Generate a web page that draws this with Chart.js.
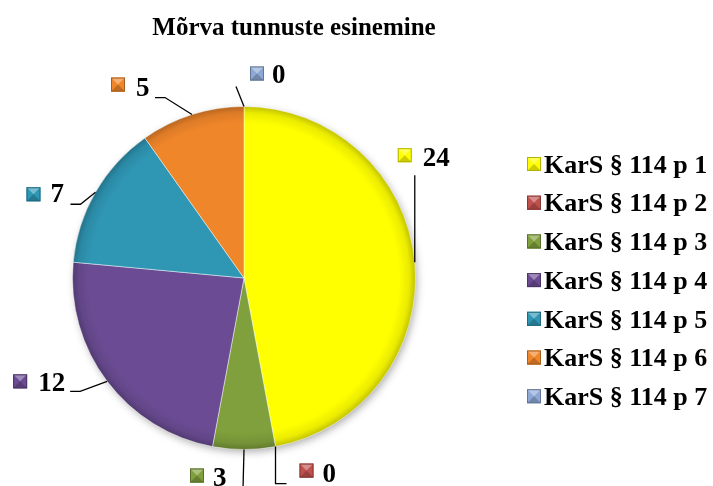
<!DOCTYPE html>
<html>
<head>
<meta charset="utf-8">
<script src="https://cdn.jsdelivr.net/npm/chart.js@4"></script>
<style>
  body { margin: 0; background: #fff; }
  canvas { display: block; }
</style>
</head>
<body>
<canvas id="myChart" width="713" height="486"></canvas>
<script>
const chartTitle = 'Mõrva tunnuste esinemine';
const categories = ['KarS § 114 p 1', 'KarS § 114 p 2', 'KarS § 114 p 3', 'KarS § 114 p 4',
                    'KarS § 114 p 5', 'KarS § 114 p 6', 'KarS § 114 p 7'];
const counts = [24, 0, 3, 12, 7, 5, 0];
const sliceColors = ['#FFFF00', '#C0504D', '#7FA03C', '#6B4C94', '#2F96B4', '#F0862A', '#8DA8D5'];

const SERIF = '"Liberation Serif", "Times New Roman", serif';

// callout positions, relative to the point on the rim at the middle of each slice
const callouts = [
  { bend: [0, -87],   end: [0, -87],   box: [-10, -107], text: [8, -103] },
  { bend: [0, 37],    end: [11, 37],   box: [31, 24],    text: [47, 28] },
  { bend: [-1, 40],   end: [-1, 40],   box: [-47, 26],   text: [-31, 30] },
  { bend: [-27, 10],  end: [-37, 10],  box: [-87, 0],    text: [-69, 3] },
  { bend: [-15, 12],  end: [-25, 12],  box: [-62, 2],    text: [-45, 3] },
  { bend: [-27, -17], end: [-37, -17], box: [-74, -30],  text: [-56, -26] },
  { bend: [-8, -20],  end: [-8, -20],  box: [13, -33],   text: [28, -30] }
];

function shade(hex, pct) {
  var n = parseInt(hex.slice(1), 16);
  var r = n >> 16, g = (n >> 8) & 255, b = n & 255;
  var f = function (c) {
    c = pct < 0 ? c * (1 + pct) : c + (255 - c) * pct;
    return Math.round(Math.max(0, Math.min(255, c)));
  };
  return 'rgb(' + f(r) + ',' + f(g) + ',' + f(b) + ')';
}

function bevelBox(ctx, cx, cy, s, color) {
  var x = cx - s / 2, y = cy - s / 2;
  ctx.fillStyle = color;
  ctx.fillRect(x, y, s, s);
  ctx.fillStyle = shade(color, 0.35);
  ctx.beginPath();
  ctx.moveTo(x, y); ctx.lineTo(x + s, y); ctx.lineTo(cx, cy); ctx.closePath();
  ctx.fill();
  ctx.fillStyle = shade(color, -0.2);
  ctx.beginPath();
  ctx.moveTo(x, y + s); ctx.lineTo(x + s, y + s); ctx.lineTo(cx, cy); ctx.closePath();
  ctx.fill();
  ctx.strokeStyle = shade(color, -0.3);
  ctx.lineWidth = 1;
  ctx.strokeRect(x + 0.5, y + 0.5, s - 1, s - 1);
}

const decorPlugin = {
  id: 'decor',
  beforeDatasetsDraw(chart) {
    var ctx = chart.ctx;
    var arc = chart.getDatasetMeta(0).data[0];
    if (!arc) return;
    ctx.save();
    ctx.shadowColor = 'rgba(0,0,0,0.35)';
    ctx.shadowBlur = 8;
    ctx.shadowOffsetX = 2;
    ctx.shadowOffsetY = 3;
    ctx.fillStyle = '#fff';
    ctx.beginPath();
    ctx.arc(arc.x, arc.y, arc.outerRadius - 1, 0, Math.PI * 2);
    ctx.fill();
    ctx.restore();
  },
  afterDraw(chart) {
    var ctx = chart.ctx;
    ctx.save();
    // title
    ctx.fillStyle = '#000';
    ctx.font = 'bold 25px ' + SERIF;
    ctx.textAlign = 'center';
    ctx.textBaseline = 'middle';
    ctx.fillText(chartTitle, 294, 29);

    // callouts
    var meta = chart.getDatasetMeta(0);
    ctx.font = 'bold 27px ' + SERIF;
    ctx.textAlign = 'left';
    meta.data.forEach(function (el, i) {
      var p = el.getProps(['x', 'y', 'startAngle', 'endAngle', 'outerRadius'], true);
      var mid = (p.startAngle + p.endAngle) / 2;
      var ex = p.x + Math.cos(mid) * p.outerRadius;
      var ey = p.y + Math.sin(mid) * p.outerRadius;
      var c = callouts[i];
      ctx.strokeStyle = '#000';
      ctx.lineWidth = 1.3;
      ctx.beginPath();
      ctx.moveTo(ex, ey);
      ctx.lineTo(ex + c.bend[0], ey + c.bend[1]);
      ctx.lineTo(ex + c.end[0], ey + c.end[1]);
      ctx.stroke();
      bevelBox(ctx, ex + c.box[0], ey + c.box[1], 14, sliceColors[i]);
      ctx.fillStyle = '#000';
      ctx.fillText(String(chart.data.datasets[0].data[i]), ex + c.text[0], ey + c.text[1]);
    });

    // legend
    ctx.font = 'bold 26px ' + SERIF;
    chart.data.labels.forEach(function (lab, i) {
      var y = 166 + i * 38.7;
      bevelBox(ctx, 534, y - 2, 14, sliceColors[i]);
      ctx.fillStyle = '#000';
      ctx.fillText(lab, 544, y);
    });
    ctx.restore();
  }
};

new Chart(document.getElementById('myChart'), {
  type: 'pie',
  data: {
    labels: categories,
    datasets: [{
      data: counts,
      backgroundColor: function (context) {
        var base = sliceColors[context.dataIndex];
        var area = context.chart.chartArea;
        if (!area) return base;
        var cx = (area.left + area.right) / 2, cy = (area.top + area.bottom) / 2;
        var r = Math.min(area.right - area.left, area.bottom - area.top) / 2;
        var g = context.chart.ctx.createRadialGradient(cx, cy, 0, cx, cy, r);
        g.addColorStop(0, base);
        g.addColorStop(0.9, base);
        g.addColorStop(0.96, shade(base, -0.08));
        g.addColorStop(1, shade(base, -0.25));
        return g;
      },
      borderColor: 'rgba(255,255,255,0.45)',
      borderWidth: 1
    }]
  },
  options: {
    responsive: false,
    animation: false,
    layout: { padding: { left: 72, right: 297, top: 106, bottom: 36 } },
    plugins: {
      legend: { display: false },
      title: { display: false },
      tooltip: { enabled: false }
    }
  },
  plugins: [decorPlugin]
});
</script>
</body>
</html>
